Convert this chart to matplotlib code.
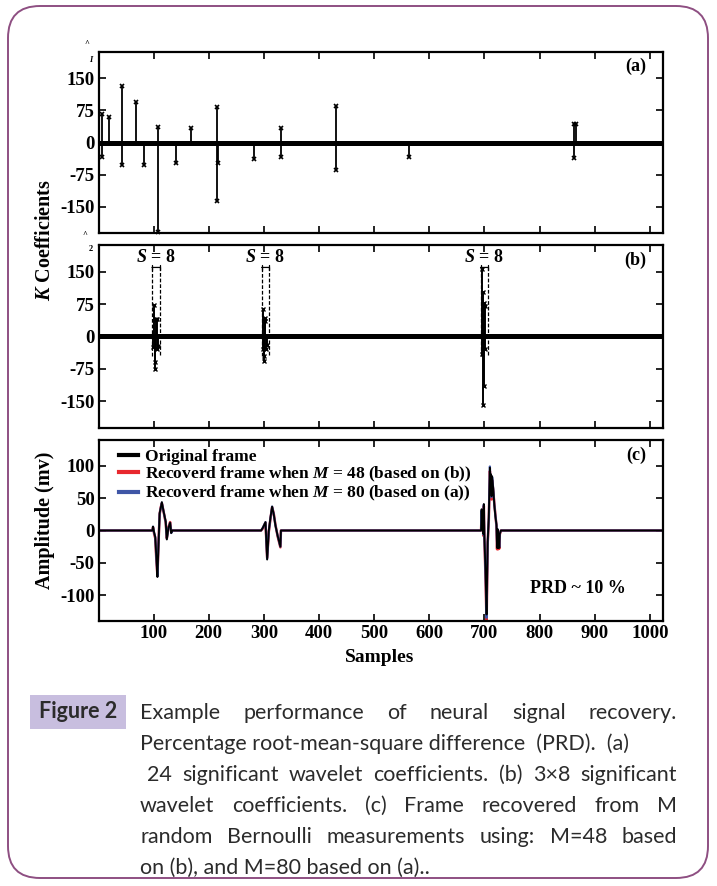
import numpy as np
import matplotlib
matplotlib.use("Agg")
import matplotlib.pyplot as plt
from matplotlib.patches import FancyBboxPatch, Rectangle
from matplotlib.transforms import IdentityTransform

plt.rcParams['font.family'] = ['Liberation Serif', 'DejaVu Serif']
plt.rcParams['font.weight'] = 'bold'
plt.rcParams['axes.unicode_minus'] = False
plt.rcParams['mathtext.fontset'] = 'custom'
plt.rcParams['mathtext.it'] = 'Liberation Serif:italic:bold'
plt.rcParams['mathtext.rm'] = 'Liberation Serif:bold'

# (a) 24 significant wavelet coefficients
a_pos = [6, 6, 19, 43, 43, 69, 82, 108, 108, 140, 167, 215, 215, 216, 282,
         331, 331, 431, 431, 563, 862, 862, 866]
a_val = [66, -33, 60, 132, -52, 95, -52, 37, -210, -47, 34, 82, -138, -47, -38,
         33, -34, 85, -64, -33, 44, -37, 43]

# (b) 3 x 8 significant wavelet coefficients
b_pos = [[99, 101, 102, 103, 105, 106, 107, 108],
         [298, 299, 300, 301, 302, 303, 304, 305],
         [695, 696, 697, 698, 699, 700, 701, 702]]
b_val = [[-25, 73, -76, -60, 40, -30, 40, -22],
         [-30, 64, -56, -45, 44, 35, -30, -20],
         [-40, 156, -158, 102, -115, 78, 70, -30]]
b_label = "$S$ = 8"

# (c) frames: breakpoints of the three bursts, zero elsewhere
c1_x = [98, 99, 101, 103, 105, 107, 109, 111, 113, 115, 118, 122, 124, 127, 130, 132, 134]
c1_orig = [0, 6, -3, -10, -40, -72, -20, 27, 35, 44, 30, 14, -14, 4, 12, -4, 0]
c1_red = [0, 5, -5, -12, -45, -70, -18, 25, 36, 42, 30, 12, -12, 5, 13, -3, 0]
c1_blue = [0, 6, -4, -10, -42, -71, -19, 26, 35, 43, 30, 13, -13, 4, 12, -4, 0]

c2_x = [295, 298, 303, 306, 309, 312, 315, 318, 321, 325, 330, 331]
c2_orig = [0, 4, 13, -45, 0, 20, 37, 25, 8, -8, -25, 0]
c2_red = [0, 3, 12, -42, -2, 18, 36, 26, 9, -9, -26, 0]
c2_blue = [0, 4, 13, -44, -1, 19, 37, 25, 8, -8, -25, 0]

c3_x = [694, 695, 696, 697, 698, 699, 700, 702, 704, 706, 708, 710, 711, 712,
        713, 714, 716, 718, 720, 722, 723, 724, 725, 726, 727, 728, 730]
c3_orig = [0, 33, 5, 30, -5, 41, -9, -60, -130, -17, 20, 97, 80, 87,
           53, 84, 66, 40, 22, 9, -27, 2, -27, -10, -27, -5, 0]
c3_red = [0, 28, 3, 25, -8, 38, -12, -70, -145, -20, 15, 92, 75, 82,
          48, 78, 62, 42, 24, 6, -29, 0, -29, -12, -28, -6, 0]
c3_blue = [0, 31, 4, 28, -6, 40, -10, -64, -135, -18, 18, 99, 78, 86,
           52, 83, 65, 41, 23, 8, -26, 2, -26, -10, -26, -5, 0]

x_ticks = [100, 200, 300, 400, 500, 600, 700, 800, 900, 1000]
coef_ticks = [-150, -75, 0, 75, 150]
amp_ticks = [-100, -50, 0, 50, 100]
legend_labels = ["Original frame",
                 "Recoverd frame when $M$ = 48 (based on (b))",
                 "Recoverd frame when $M$ = 80 (based on (a))"]

W, H = 717, 886
fig = plt.figure(figsize=(W / 100, H / 100), dpi=100)


def px_axes(left, top, right, bottom):
    return fig.add_axes([left / W, 1 - bottom / H, (right - left) / W, (bottom - top) / H])


def style(ax, yticks, lim):
    ax.set_xlim(1, 1024)
    ax.set_ylim(*lim)
    ax.set_xticks(x_ticks)
    ax.set_yticks(yticks)
    ax.tick_params(direction='in', top=True, right=True, length=5, width=1.2,
                   labelsize=13.5, pad=3)
    for lab in ax.get_xticklabels() + ax.get_yticklabels():
        lab.set_fontweight('bold')
    for s in ax.spines.values():
        s.set_linewidth(1.6)


ax_a = px_axes(99, 52, 663, 233)
ax_b = px_axes(99, 245, 663, 428)
ax_c = px_axes(99, 440, 663, 621)

# (a)
ax_a.axhline(0, color='k', lw=3.6, zorder=1)
ml, sl, bl = ax_a.stem(a_pos, a_val, linefmt='k-', markerfmt='kx', basefmt=' ')
ml.set_markersize(3.5)
ml.set_markeredgewidth(1.2)
sl.set_linewidth(1.3)
ml.set_clip_on(False)
style(ax_a, coef_ticks, (-212, 212))
ax_a.set_xticklabels([])
ax_a.text(0.97, 0.92, "(a)", transform=ax_a.transAxes, ha='right', va='center', fontsize=13)

# (b)
ax_b.axhline(0, color='k', lw=3.6, zorder=1)
for xs, vs in zip(b_pos, b_val):
    ml, sl, bl = ax_b.stem(xs, vs, linefmt='k-', markerfmt='kx', basefmt=' ')
    ml.set_markersize(3)
    ml.set_markeredgewidth(1)
    sl.set_linewidth(1.4)
    x0, x1 = min(xs) - 2, max(xs) + 4
    ax_b.plot([x0, x0], [-46, 160], 'k--', lw=0.9, dashes=(3, 1.5))
    ax_b.plot([x1, x1], [-43, 160], 'k--', lw=0.9, dashes=(3, 1.5))
    ax_b.annotate('', xy=(x0, 160), xytext=(x1, 160),
                  arrowprops=dict(arrowstyle='|-|,widthA=0.2,widthB=0.2', lw=0.9, color='k',
                                  shrinkA=0, shrinkB=0))
    ax_b.text((x0 + x1) / 2, 184, b_label, ha='center', va='center', fontsize=13)
style(ax_b, coef_ticks, (-212, 212))
ax_b.set_xticklabels([])
ax_b.text(0.97, 0.915, "(b)", transform=ax_b.transAxes, ha='right', va='center', fontsize=13)

# (c)
xs = np.concatenate([[1], c1_x, c2_x, c3_x, [1024]])
y_orig = np.concatenate([[0], c1_orig, c2_orig, c3_orig, [0]])
y_red = np.concatenate([[0], c1_red, c2_red, c3_red, [0]])
y_blue = np.concatenate([[0], c1_blue, c2_blue, c3_blue, [0]])
ax_c.plot(xs, y_red, color='#e8282e', lw=1.8)
ax_c.plot(xs, y_blue, color='#3f56a6', lw=1.6)
ax_c.plot(xs, y_orig, color='k', lw=1.3)
style(ax_c, amp_ticks, (-140, 140))
h = [plt.Line2D([], [], color=c, lw=3) for c in ['k', '#e8282e', '#3f56a6']]
ax_c.legend(h, legend_labels, loc='upper left', bbox_to_anchor=(0.02, 1.0), frameon=False,
            fontsize=12.5, handlelength=1.1, handletextpad=0.4, labelspacing=0.0,
            borderaxespad=0.1)
ax_c.text(0.97, 0.915, "(c)", transform=ax_c.transAxes, ha='right', va='center', fontsize=13)
ax_c.text(0.85, 0.178, "PRD ~ 10 %", transform=ax_c.transAxes, ha='center', va='center', fontsize=13)

fig.text(45 / W, 1 - 240 / H, "$K$ Coefficients", rotation=90, ha='center', va='center', fontsize=14.5)
fig.text(45 / W, 1 - 520 / H, "Amplitude (mv)", rotation=90, ha='center', va='center', fontsize=14.5)
fig.text(380 / W, 1 - 657 / H, "Samples", ha='center', va='center', fontsize=14)

# leftover index marks by the axis
for t, x, y in [("^", 87, 44), ("$I$", 92, 59), ("^", 85, 235), ("2", 91, 249)]:
    fig.text(x / W, 1 - y / H, t, ha='center', va='center', fontsize=6)

# page frame
fig.patches.append(FancyBboxPatch((8, 8), W - 17, H - 14, boxstyle='round,pad=0,rounding_size=32',
                                  transform=IdentityTransform(), fill=False,
                                  edgecolor='#8e4f82', lw=1.4))

# caption
cap = dict(family='Lato', weight='normal', fontsize=15.5, color='#2b2b2b', va='center')
fig.patches.append(Rectangle((30, H - 729), 96, 34, transform=IdentityTransform(),
                             facecolor='#c8bedf', edgecolor='none'))
fig.text(78 / W, 1 - 712 / H, "Figure 2", ha='center', va='center', family='Lato',
         weight='bold', fontsize=15.5, color='#2b2b2b')

caption = [("Example performance of neural signal recovery.", 140, True),
           ("Percentage root-mean-square difference  (PRD).  (a)", 140, False),
           ("24 significant wavelet coefficients. (b) 3×8 significant", 147, True),
           ("wavelet coefficients. (c) Frame recovered from M", 140, True),
           ("random Bernoulli measurements using: M=48 based", 140, True),
           ("on (b), and M=80 based on (a)..", 140, False)]
r = fig.canvas.get_renderer()
for i, (line, x0, just) in enumerate(caption):
    y = 1 - (713 + 31 * i) / H
    if not just:
        fig.text(x0 / W, y, line, **cap)
        continue
    words = line.split(' ')
    ts = [fig.text(0, y, w, **cap) for w in words]
    ws = [t.get_window_extent(r).width for t in ts]
    gap = (677 - x0 - sum(ws)) / (len(words) - 1)
    pos = x0
    for t, w in zip(ts, ws):
        t.set_x(pos / W)
        pos += w + gap

fig.savefig("out.png", dpi=100)
